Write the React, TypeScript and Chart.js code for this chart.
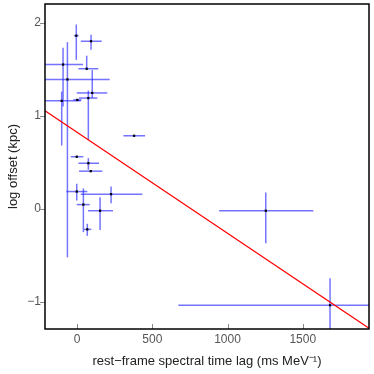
import React, { useEffect, useRef } from "react";
import { Chart, registerables } from "chart.js";

Chart.register(...registerables);

// rest-frame spectral time lag (ms MeV^-1)
const lagX = [-5, 93, -93, 64, -64, 101, 75, 2, -102, -2, 75, 91, -2, 226, 42, 153, 68, 379, 1254, 1681];
const lagLow = [-20, 25, -400, 9, -400, -2, 13, -25, -400, -42, 9, 13, -71, 25, -2, 73, 46, 308, 944, 673];
const lagHigh = [10, 164, 40, 141, 217, 201, 135, 29, 25, 42, 146, 168, 68, 434, 84, 239, 95, 452, 1570, 2500];
// log offset (kpc)
const offsetY = [1.86, 1.8, 1.55, 1.505, 1.39, 1.245, 1.19, 1.17, 1.16, 0.56, 0.49, 0.405, 0.186, 0.158, 0.046, -0.02, -0.22, 0.785, -0.02, -1.035];
const offLow = [1.6, 1.71, 1.1, 1.49, -0.52, 1.19, 0.74, 1.16, 0.68, 0.55, 0.42, 0.4, 0.09, 0.06, -0.25, -0.226, -0.29, 0.78, -0.37, -2.0];
const offHigh = [1.98, 1.87, 1.73, 1.645, 1.79, 1.49, 1.27, 1.18, 1.26, 0.57, 0.545, 0.41, 0.27, 0.24, 0.22, 0.126, -0.16, 0.79, 0.175, -0.745];
// fitted relation
const fitX = [-213, 1940];
const fitY = [1.054, -1.282];
const xTicks = [0, 500, 1000, 1500];
const yTicks = [-1, 0, 1, 2];

const FONT = "'Liberation Sans', Arial, sans-serif";

const errorBarsPlugin = {
  id: "errorBars",
  beforeDatasetsDraw(chart: any) {
    const { ctx, chartArea, scales } = chart;
    const xs = scales.x;
    const ys = scales.y;
    ctx.save();
    ctx.beginPath();
    ctx.rect(chartArea.left, chartArea.top, chartArea.right - chartArea.left, chartArea.bottom - chartArea.top);
    ctx.clip();
    ctx.strokeStyle = "rgba(30,30,255,0.62)";
    ctx.lineWidth = 1.5;
    for (let i = 0; i < lagX.length; i++) {
      const px = xs.getPixelForValue(lagX[i]);
      const py = ys.getPixelForValue(offsetY[i]);
      ctx.beginPath();
      ctx.moveTo(xs.getPixelForValue(lagLow[i]), py);
      ctx.lineTo(xs.getPixelForValue(lagHigh[i]), py);
      ctx.stroke();
      ctx.beginPath();
      ctx.moveTo(px, ys.getPixelForValue(offLow[i]));
      ctx.lineTo(px, ys.getPixelForValue(offHigh[i]));
      ctx.stroke();
    }
    ctx.restore();
  },
  afterDraw(chart: any) {
    const { ctx, chartArea, scales } = chart;
    const { left, right, top, bottom } = chartArea;
    ctx.save();
    ctx.strokeStyle = "#888";
    ctx.lineWidth = 1;
    for (const v of yTicks) {
      const py = Math.round(scales.y.getPixelForValue(v)) + 0.5;
      ctx.beginPath();
      ctx.moveTo(left - 5, py);
      ctx.lineTo(left, py);
      ctx.stroke();
    }
    for (const v of xTicks) {
      const px = Math.round(scales.x.getPixelForValue(v)) + 0.5;
      ctx.beginPath();
      ctx.moveTo(px, bottom - 5);
      ctx.lineTo(px, bottom);
      ctx.stroke();
    }
    ctx.strokeStyle = "#000";
    ctx.lineWidth = 1.5;
    ctx.strokeRect(left, top, right - left, bottom - top);
    ctx.restore();
  },
};

export default function App() {
  const ref = useRef<HTMLCanvasElement | null>(null);
  useEffect(() => {
    if (!ref.current) return;
    const chart = new Chart(ref.current, {
      type: "scatter",
      data: {
        datasets: [
          {
            type: "scatter",
            data: lagX.map((x, i) => ({ x, y: offsetY[i] })),
            pointStyle: "rect",
            pointRadius: 1.6,
            backgroundColor: "#000",
            borderWidth: 0,
            order: 0,
          } as any,
          {
            type: "line",
            data: fitX.map((x, i) => ({ x, y: fitY[i] })),
            borderColor: "#ff0000",
            borderWidth: 1.2,
            pointRadius: 0,
            fill: false,
            order: 1,
          } as any,
        ],
      },
      options: {
        animation: false,
        responsive: false,
        devicePixelRatio: 1,
        layout: { padding: { top: 4, right: 5, left: 0, bottom: 0 } },
        plugins: { legend: { display: false }, tooltip: { enabled: false } },
        scales: {
          x: {
            type: "linear",
            min: -213,
            max: 1940,
            grid: { display: false, drawTicks: false },
            border: { display: false },
            afterBuildTicks: (s: any) => {
              s.ticks = xTicks.map((v) => ({ value: v }));
            },
            ticks: {
              maxRotation: 0,
              autoSkip: false,
              padding: 3,
              color: "#555",
              font: { family: FONT, size: 12 },
              callback: (v: any) => String(v),
            },
            title: {
              display: true,
              text: "rest\u2212frame spectral time lag (ms MeV\u207B\u00B9)",
              color: "#222",
              font: { family: FONT, size: 13 },
              padding: { top: 0, bottom: 5 },
            },
            afterFit: (s: any) => {
              s.height = 45;
              s.paddingLeft = 0;
              s.paddingRight = 0;
            },
          },
          y: {
            type: "linear",
            min: -1.29,
            max: 2.2,
            grid: { display: false, drawTicks: false },
            border: { display: false },
            afterBuildTicks: (s: any) => {
              s.ticks = yTicks.map((v) => ({ value: v }));
            },
            ticks: {
              autoSkip: false,
              padding: 4,
              color: "#555",
              font: { family: FONT, size: 12 },
              callback: (v: any) => (v < 0 ? "\u2212" + Math.abs(v) : String(v)),
            },
            title: {
              display: true,
              text: "log offset (kpc)",
              color: "#222",
              font: { family: FONT, size: 13 },
              padding: { top: 6, bottom: 0 },
            },
            afterFit: (s: any) => {
              s.width = 45;
              s.paddingTop = 0;
              s.paddingBottom = 0;
            },
          },
        },
      } as any,
      plugins: [errorBarsPlugin],
    });
    return () => chart.destroy();
  }, []);
  return (
    <div style={{ position: "absolute", left: 0, top: 0, width: 374, height: 374, background: "#fff" }}>
      <canvas ref={ref} width={374} height={374} style={{ width: 374, height: 374 }} />
    </div>
  );
}
